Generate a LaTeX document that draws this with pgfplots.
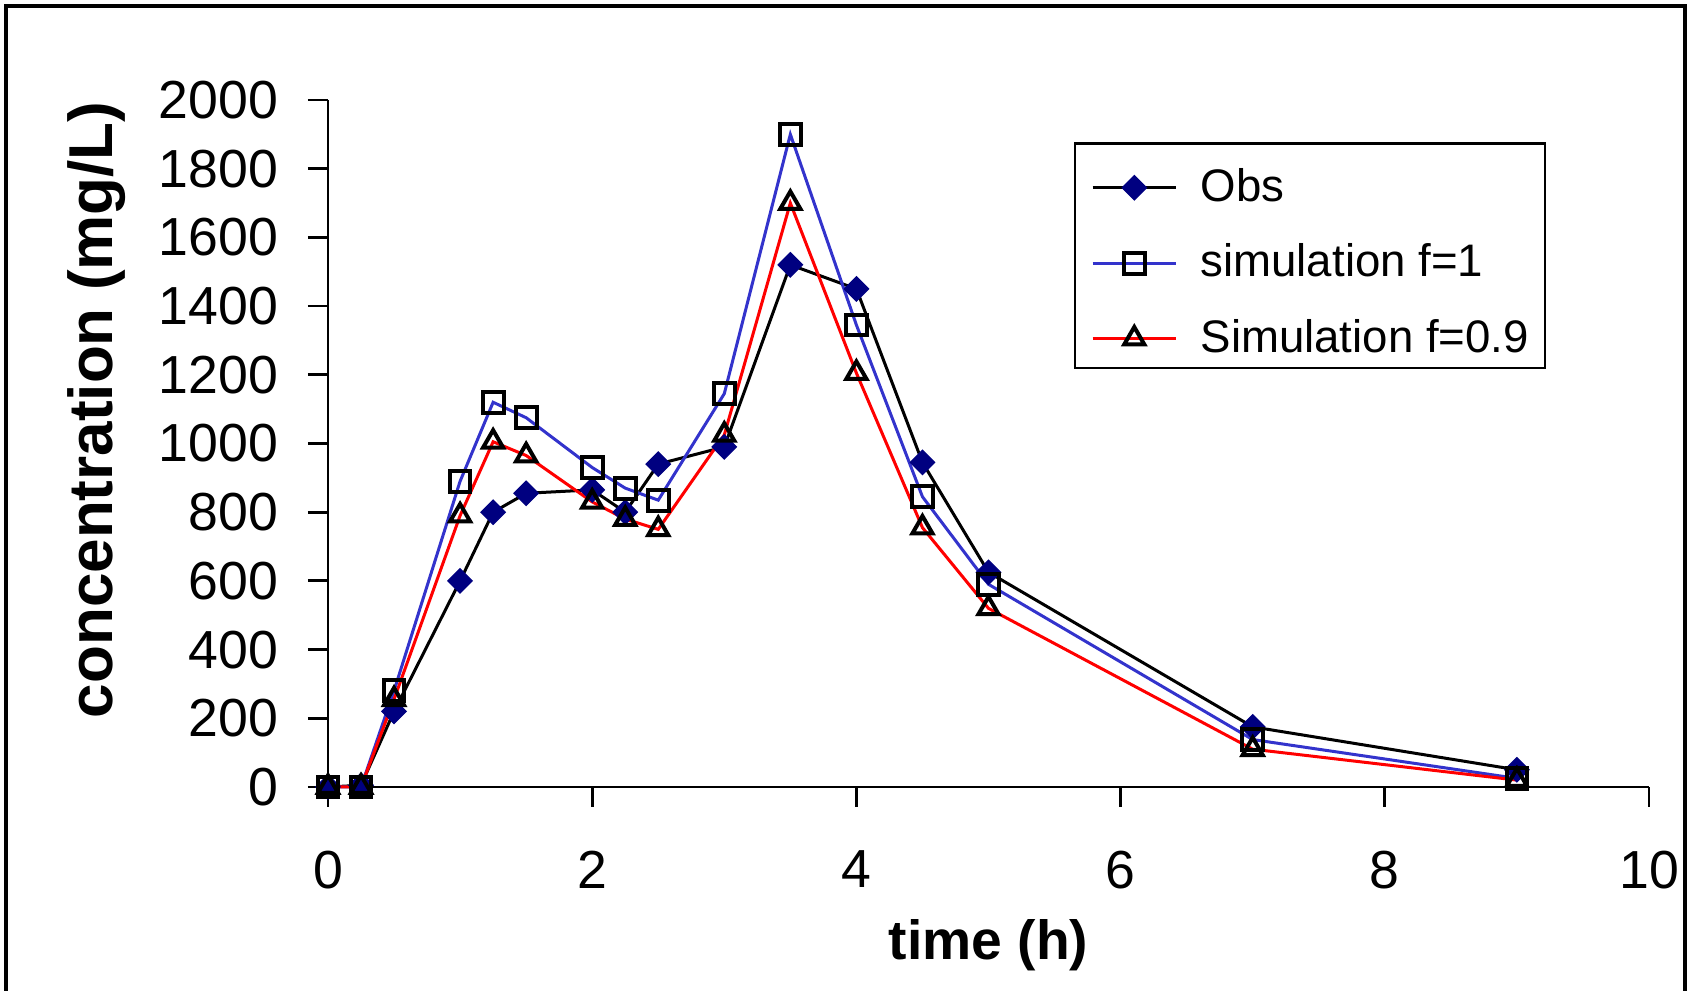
\documentclass[border=0pt]{standalone}
\usepackage{fontspec}
\setmainfont{Liberation Sans}
\usepackage{pgfplots}
\pgfplotsset{compat=1.18}
\usepackage{pgfplotstable}

\definecolor{obsnavy}{RGB}{0,0,128}
\definecolor{simblue}{RGB}{51,51,204}

% time (h), observed and simulated concentrations (mg/L)
\pgfplotstableread{
t     obs    simA   simB
0     0      0      0
0.25  5      0      0
0.5   220    280    255
1     600    890    790
1.25  800    1120   1005
1.5   855    1075   965
2     865    930    830
2.25  800    870    780
2.5   940    835    750
3     990    1145   1025
3.5   1520   1900   1700
4     1450   1345   1205
4.5   945    845    755
5     625    590    520
7     175    138    110
9     50     25     20
}\conc

\begin{document}
\begin{tikzpicture}
\useasboundingbox (-82pt,-51pt) rectangle (341pt,196.75pt);
% chart area frame
\draw[line width=0.8pt] (-80.5pt,-53pt) -- (-80.5pt,195.25pt) -- (339.25pt,195.25pt) -- (339.25pt,-53pt);
\begin{axis}[
  at={(0pt,0pt)}, anchor=south west,
  scale only axis, width=330.25pt, height=171.75pt,
  xmin=0, xmax=10, ymin=0, ymax=2000,
  clip=false,
  axis lines=left, axis line style={-, line width=0.7pt},
  xtick={0,2,...,10}, ytick={0,200,...,2000},
  minor tick num=0,
  tick align=outside, major tick length=5pt,
  tick style={line width=0.7pt, black},
  /pgf/number format/assume math mode=true,
  /pgf/number format/set thousands separator={},
  ticklabel style={font=\fontsize{13.4}{16}\selectfont},
  yticklabel style={inner sep=0pt, xshift=-7.25pt},
  xticklabel style={inner sep=0pt, yshift=-10.75pt},
  xlabel={time (h)}, ylabel={concentration (mg/L)},
  xlabel style={font=\bfseries\fontsize{13.8}{16}\selectfont, at={(axis description cs:0.5,-0.2300)}, anchor=center},
  ylabel style={font=\bfseries\fontsize{15.5}{18}\selectfont, at={(axis description cs:-0.1749,0.549)}, anchor=center},
  legend style={at={(axis description cs:0.5791,0.7671)}, anchor=west, xshift=-0.65pt, yshift=-0.8pt,
    draw=none, fill=none,
    font=\fontsize{11.4}{13}\selectfont,
    inner xsep=0pt, inner ysep=0pt, row sep=5.1pt, column sep=3.8pt,
    nodes={inner sep=2pt, text depth=0.15em}, cells={anchor=west}},
  legend image code/.code={\draw[mark repeat=2, mark phase=2, #1] plot coordinates {(0pt,0pt) (10.4pt,0pt) (20.8pt,0pt)};},
]
\addplot[black, line width=0.75pt, mark=square*, mark size=2.15pt,
  mark options={rotate=45, fill=obsnavy, draw=obsnavy, line width=0.3pt}]
  table[x=t, y=obs]{\conc};
\addlegendentry{Obs}
\addplot[simblue, line width=0.75pt, mark=square, mark size=2.6pt,
  mark options={draw=black, line width=1pt}]
  table[x=t, y=simA]{\conc};
\addlegendentry{simulation f=1}
\addplot[red, line width=0.75pt, mark=triangle, mark size=2.9pt,
  mark options={draw=black, line width=1pt}]
  table[x=t, y=simB]{\conc};
\addlegendentry{Simulation f=0.9}
% legend frame
\draw[line width=0.7pt] (axis description cs:0.5655,0.9367) rectangle (axis description cs:0.9213,0.6099);
\end{axis}
\end{tikzpicture}
\end{document}
